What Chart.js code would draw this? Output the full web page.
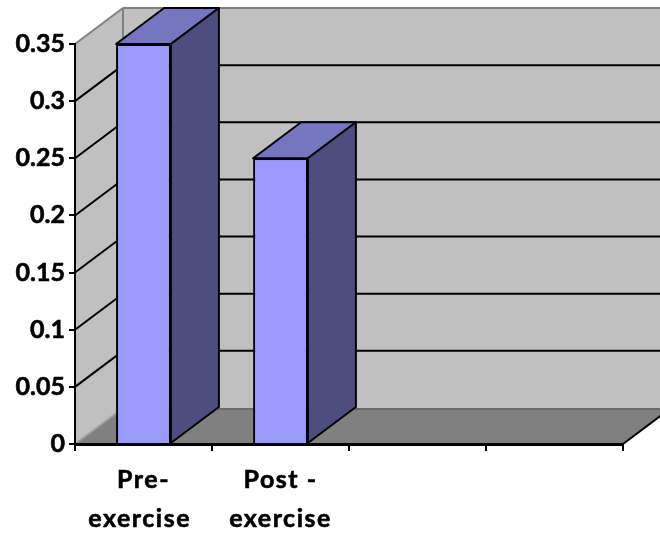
<!DOCTYPE html>
<html>
<head>
<meta charset="utf-8">
<style>
  html, body { margin: 0; padding: 0; background: #fff; }
  canvas { display: block; }
</style>
<script src="https://cdn.jsdelivr.net/npm/chart.js@4/dist/chart.umd.js"></script>
</head>
<body>
<canvas id="myChart" width="660" height="536"></canvas>
<script>
const categories = [["Pre-", "exercise "], ["Post -", "exercise"], "", ""];
const values = [0.35, 0.25, null, null];
const yTickLabels = ["0", "0.05", "0.1", "0.15", "0.2", "0.25", "0.3", "0.35"];

// how far the fake 3d box goes back
const depthX = 48;
const depthY = -36;

function poly(ctx, pts, fill, stroke, lw) {
  ctx.beginPath();
  pts.forEach((p, i) => (i ? ctx.lineTo(p[0], p[1]) : ctx.moveTo(p[0], p[1])));
  ctx.closePath();
  if (fill) {
    ctx.fillStyle = fill;
    ctx.fill();
  }
  if (stroke) {
    ctx.strokeStyle = stroke;
    ctx.lineWidth = lw;
    ctx.stroke();
  }
}

function line(ctx, x1, y1, x2, y2, color, lw) {
  ctx.beginPath();
  ctx.moveTo(x1, y1);
  ctx.lineTo(x2, y2);
  ctx.strokeStyle = color;
  ctx.lineWidth = lw;
  ctx.stroke();
}

const walls = {
  id: "walls",
  beforeDraw(chart) {
    const { ctx, chartArea: a, scales } = chart;
    const l = a.left, r = a.right, t = a.top, b = a.bottom;
    ctx.letterSpacing = "0px";
    ctx.save();
    // side wall, back wall, floor
    poly(ctx, [[l, t], [l + depthX, t + depthY], [l + depthX, b + depthY], [l, b]], "#c0c0c0");
    poly(ctx, [[l + depthX, t + depthY], [r + depthX, t + depthY], [r + depthX, b + depthY], [l + depthX, b + depthY]], "#c0c0c0");
    poly(ctx, [[l, b], [r, b], [r + depthX, b + depthY], [l + depthX, b + depthY]], "#808080");

    scales.y.ticks.forEach((tick, i) => {
      const y = scales.y.getPixelForTick(i);
      const edge = i === 0 || i === scales.y.ticks.length - 1;
      const color = edge ? "#808080" : "#000";
      if (i === 0) {
        line(ctx, l + depthX, y + depthY + 1, r + depthX, y + depthY + 1, "#6a6a6a", 2);
        line(ctx, l, y, l + depthX, y + depthY, "#a0a0a0", 2);
      } else {
        line(ctx, l, y, l + depthX, y + depthY, color, 2);
        line(ctx, l + depthX, y + depthY, r + depthX, y + depthY, color, 2);
      }
    });
    line(ctx, l + depthX, t + depthY, l + depthX, b + depthY, "#808080", 2);
    line(ctx, r, b, r + depthX, b + depthY, "#000", 2);
    ctx.restore();
  },
};

const boxes = {
  id: "boxes",
  afterDatasetsDraw(chart) {
    const { ctx } = chart;
    ctx.save();
    ctx.lineJoin = "round";
    chart.getDatasetMeta(0).data.forEach((bar, i) => {
      if (values[i] === null) return;
      const { x, y, base, width } = bar.getProps(["x", "y", "base", "width"], true);
      const x1 = x - width / 2, x2 = x + width / 2;
      poly(ctx, [[x1, y], [x2, y], [x2 + depthX, y + depthY], [x1 + depthX, y + depthY]], "#7676c0", "#000", 2);
      poly(ctx, [[x2, y], [x2 + depthX, y + depthY], [x2 + depthX, base + depthY], [x2, base]], "#4d4d80", "#000", 2);
    });
    ctx.restore();
    // x labels are on z 1 so they come after this, and they run wider than Lato
    ctx.letterSpacing = "1.5px";
  },
};

new Chart(document.getElementById("myChart"), {
  type: "bar",
  data: {
    labels: categories,
    datasets: [
      {
        data: values,
        backgroundColor: "#9999ff",
        borderColor: "#000",
        borderWidth: 2,
        barPercentage: 0.4,
        categoryPercentage: 1,
      },
    ],
  },
  options: {
    responsive: false,
    animation: false,
    layout: { padding: { top: 44, right: 37, left: 0, bottom: 0 } },
    plugins: { legend: { display: false }, tooltip: { enabled: false } },
    scales: {
      x: {
        afterFit(scale) {
          scale.height = 92;
        },
        grid: { drawOnChartArea: false, color: "#000", lineWidth: 2, tickLength: 7 },
        border: { color: "#000", width: 3 },
        ticks: {
          z: 1,
          color: "#000",
          padding: 9,
          maxRotation: 0,
          autoSkip: false,
          textStrokeColor: "#000",
          textStrokeWidth: 0.6,
          font: { family: "Lato", weight: "bold", size: 25, lineHeight: 1.58 },
        },
      },
      y: {
        min: 0,
        max: 0.35,
        afterFit(scale) {
          scale.width = 75;
        },
        grid: { drawOnChartArea: false, color: "#000", lineWidth: 2, tickLength: 6 },
        border: { color: "#000", width: 2 },
        ticks: {
          stepSize: 0.05,
          color: "#000",
          padding: 4,
          textStrokeColor: "#000",
          textStrokeWidth: 0.6,
          font: { family: "Lato", weight: "bold", size: 25 },
          callback: (v, i) => yTickLabels[i],
        },
      },
    },
  },
  plugins: [walls, boxes],
});
</script>
</body>
</html>
